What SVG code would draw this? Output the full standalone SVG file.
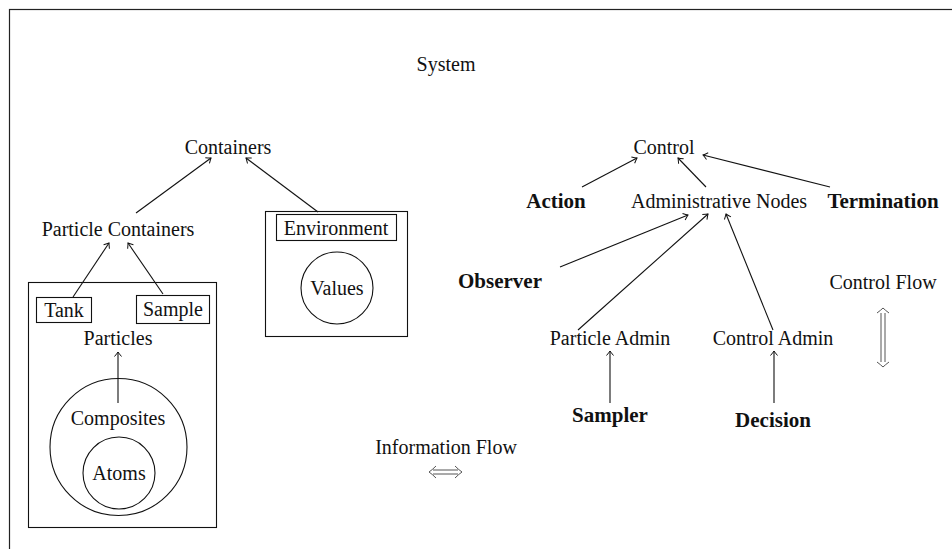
<svg xmlns="http://www.w3.org/2000/svg" width="952" height="549" viewBox="0 0 952 549">
<style>
text{font-family:"Liberation Serif","Times New Roman",serif;font-size:20px;fill:#111;text-anchor:middle}
.b{font-weight:bold;font-size:21px}
.box{fill:none;stroke:#111;stroke-width:1.1}
.e{fill:none;stroke:#111;stroke-width:1.1;marker-end:url(#ah)}
.dbl{fill:none;stroke:#555;stroke-width:1}
</style>
<defs>
<marker id="ah" viewBox="-6 -5 8 10" refX="0" refY="0" markerWidth="8" markerHeight="10" markerUnits="userSpaceOnUse" orient="auto">
<path d="M-4.5,-3.5 Q-1.5,-1 0,0 Q-1.5,1 -4.5,3.5" fill="none" stroke="#111" stroke-width="1"/>
</marker>
</defs>
<rect x="9.5" y="9.5" width="1000" height="600" fill="none" stroke="#222" stroke-width="1.2"/>
<g id="system"><text x="446" y="71">System</text></g>
<g id="containers"><text x="228" y="154">Containers</text></g>
<g id="particle-containers"><text x="118" y="236">Particle Containers</text></g>
<g id="environment-box">
<rect class="box" x="265.5" y="211.5" width="142" height="125"/>
<rect class="box" x="276.5" y="214.5" width="120" height="26"/>
<text x="336" y="235">Environment</text>
</g>
<g id="values"><circle class="box" cx="337" cy="288" r="36"/><text x="337" y="295">Values</text></g>
<g id="particles-box">
<rect class="box" x="28.5" y="282.5" width="188" height="245"/>
<text x="118" y="345">Particles</text>
</g>
<g id="tank"><rect class="box" x="36.5" y="297.5" width="55" height="25"/><text x="64" y="317">Tank</text></g>
<g id="sample"><rect class="box" x="136.5" y="295.5" width="73" height="28"/><text x="173" y="316">Sample</text></g>
<g id="composites"><circle class="box" cx="118.5" cy="447" r="68.5"/><text x="118" y="425">Composites</text></g>
<g id="atoms"><circle class="box" cx="119" cy="473" r="36"/><text x="119" y="480">Atoms</text></g>
<g id="control"><text x="664" y="154">Control</text></g>
<g id="action"><text class="b" x="556" y="208">Action</text></g>
<g id="admin-nodes"><text x="719" y="208">Administrative Nodes</text></g>
<g id="termination"><text class="b" x="883" y="208">Termination</text></g>
<g id="observer"><text class="b" x="500" y="288">Observer</text></g>
<g id="particle-admin"><text x="610" y="345">Particle Admin</text></g>
<g id="control-admin"><text x="773" y="345">Control Admin</text></g>
<g id="sampler"><text class="b" x="610" y="422">Sampler</text></g>
<g id="decision"><text class="b" x="773" y="427">Decision</text></g>
<g id="control-flow"><text x="883" y="289">Control Flow</text></g>
<g id="information-flow"><text x="446" y="454">Information Flow</text></g>
<g id="connectors">
<path class="e" d="M136,213 L211,158"/>
<path class="e" d="M318,212 L246,158"/>
<path class="e" d="M73,297 L109,243"/>
<path class="e" d="M163,294 L128,243"/>
<path class="e" d="M118,403 L118,352"/>
<path class="e" d="M582,187 L637,158"/>
<path class="e" d="M706,187 L678,158"/>
<path class="e" d="M830,187 L703,155"/>
<path class="e" d="M560,267 L688,215"/>
<path class="e" d="M578,330 L708,214"/>
<path class="e" d="M773,330 L726,214"/>
<path class="e" d="M610,403 L610,351"/>
<path class="e" d="M774,403 L774,351"/>
<g id="info-arrow">
<path class="dbl" d="M433,470 L458,470 M433,474 L458,474"/>
<path class="dbl" d="M436,466 Q432,470 429,472 Q432,474 436,478 M455,466 Q459,470 462,472 Q459,474 455,478"/>
</g>
<g id="control-arrow">
<path class="dbl" d="M881,313 L881,362 M885,313 L885,362"/>
<path class="dbl" d="M877,313 Q881,310 883,308 Q885,310 889,313 M877,362 Q881,365 883,367 Q885,365 889,362"/>
</g>
</g>
</svg>
